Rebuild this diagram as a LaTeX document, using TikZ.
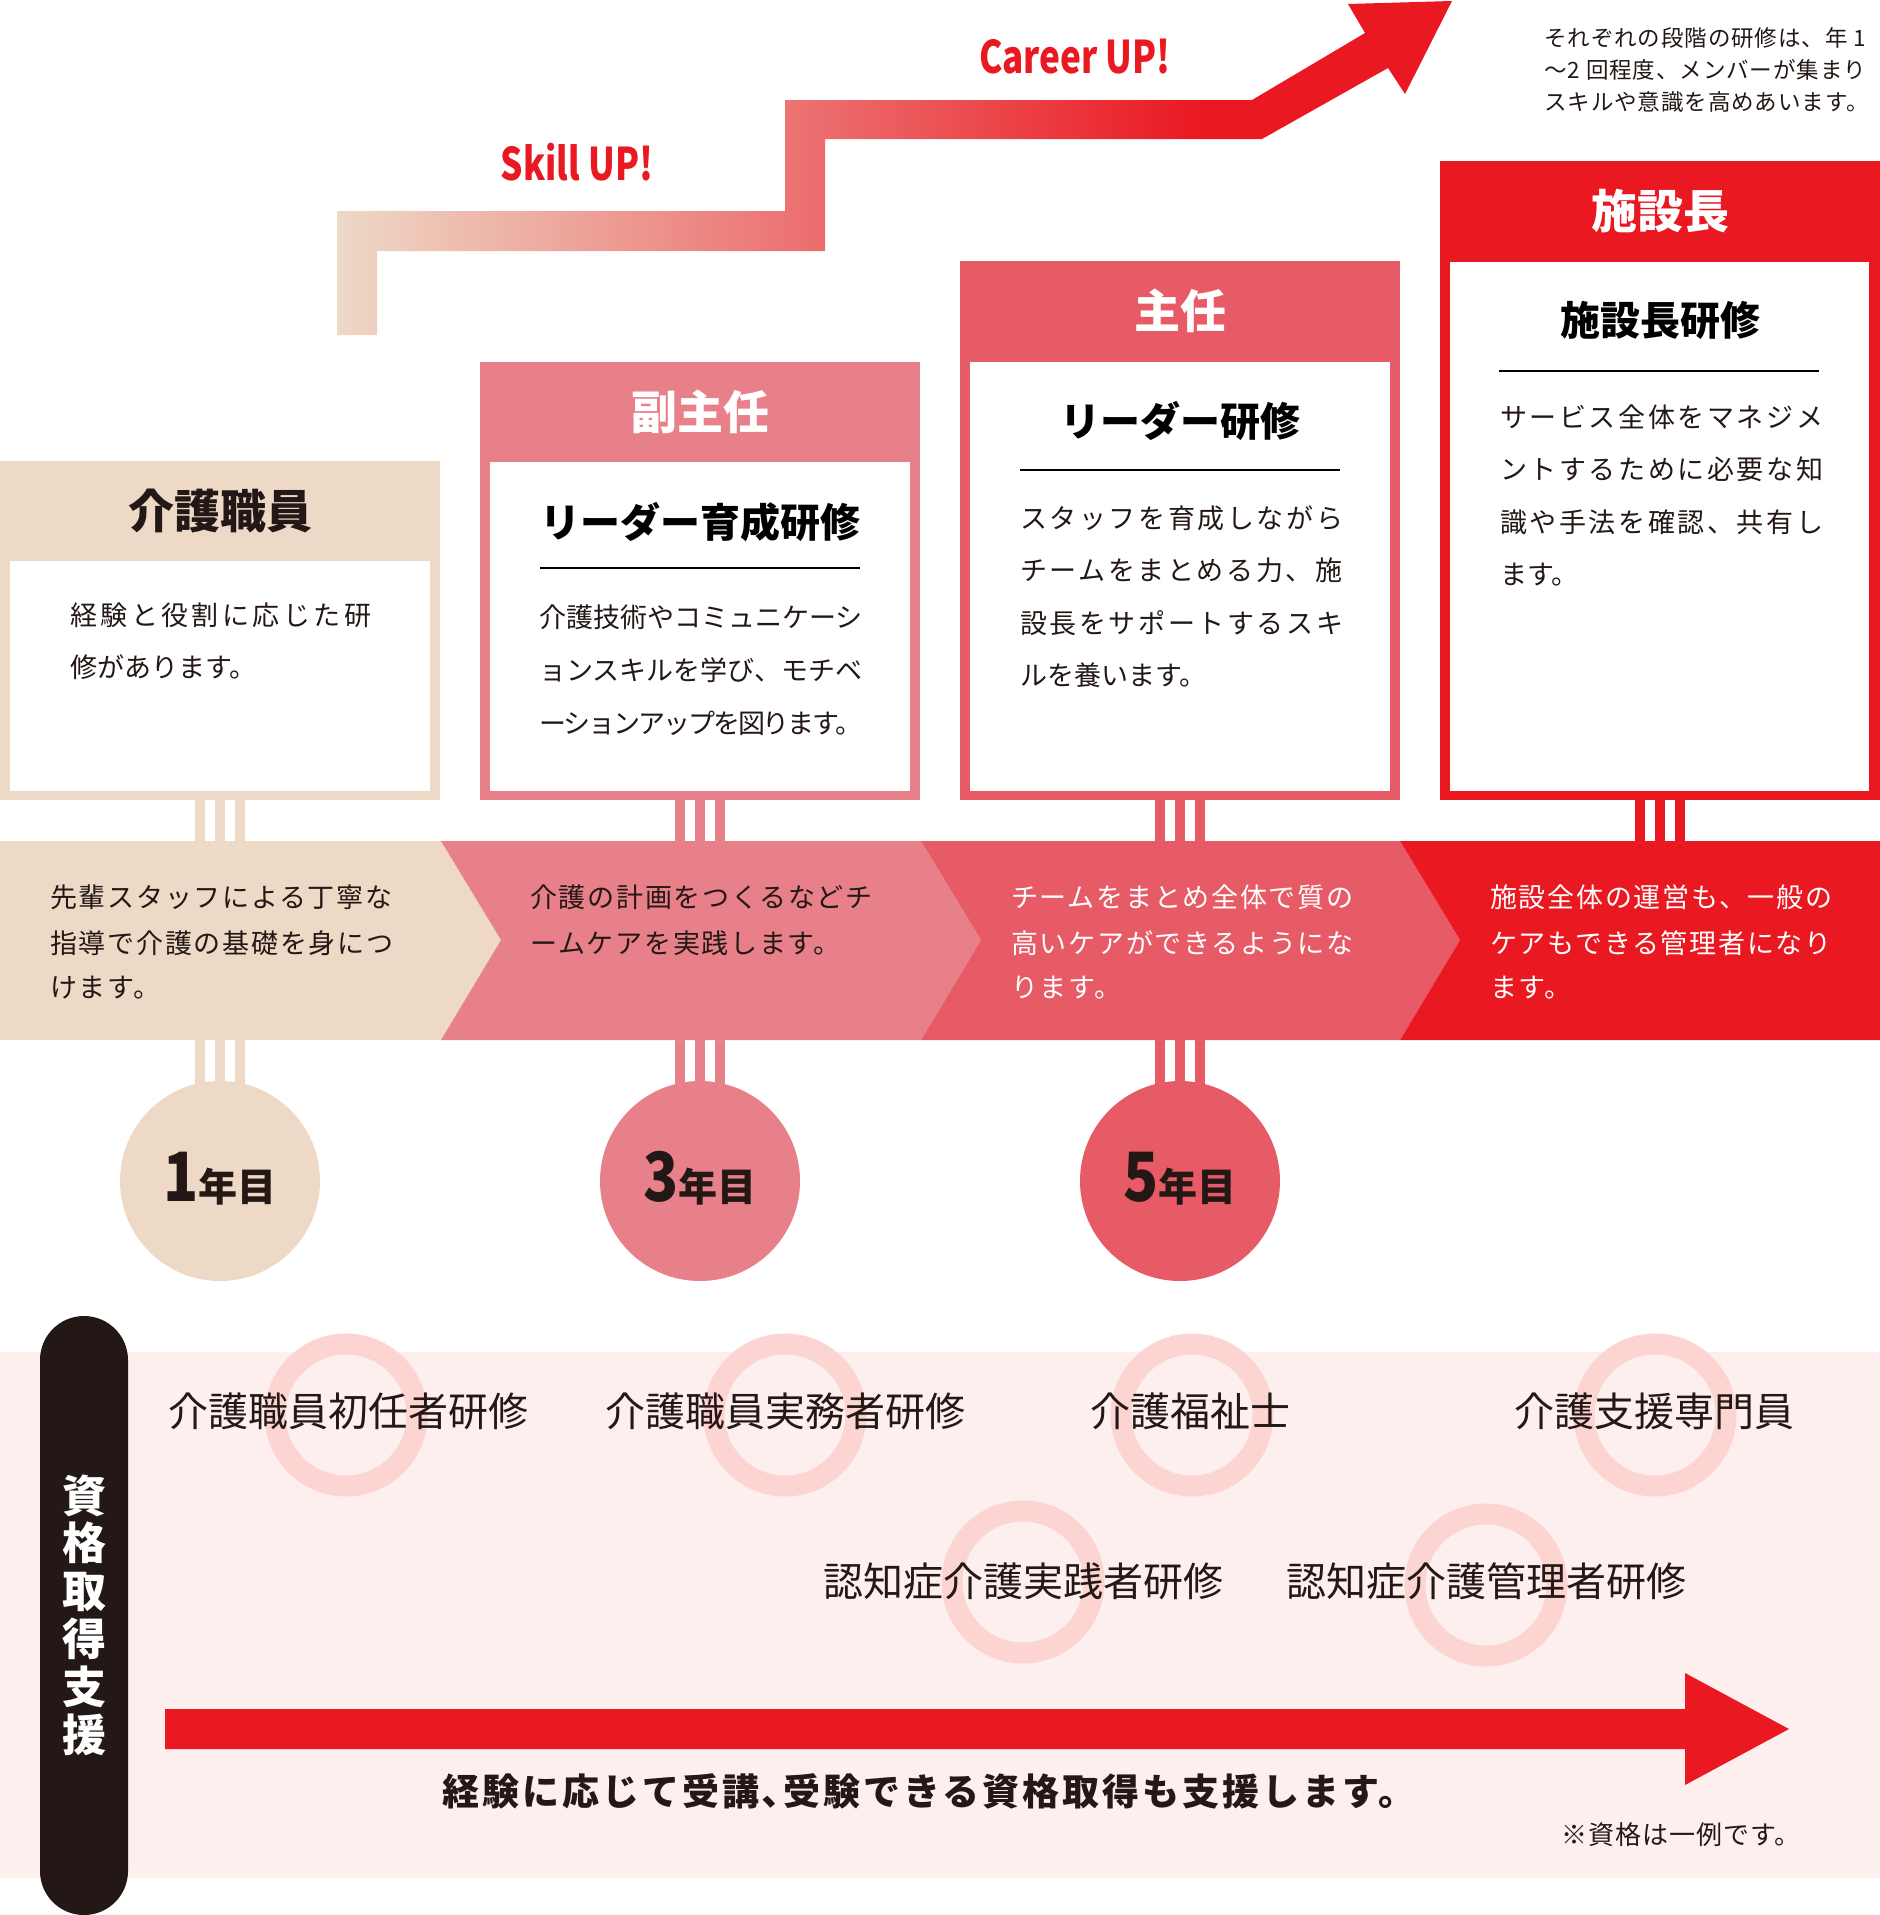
\documentclass[tikz,border=0pt]{standalone}
\usepackage{fontspec}
\setmainfont{Noto Sans CJK JP}
\usetikzlibrary{calc}
\definecolor{beige}{HTML}{EED9C6}
\definecolor{pinkc}{HTML}{E8808A}
\definecolor{rosec}{HTML}{E75B66}
\definecolor{redc}{HTML}{EA1821}
\definecolor{ink}{HTML}{231815}
\definecolor{palebg}{HTML}{FCEFEE}
\definecolor{ringc}{HTML}{FCD5D3}
\definecolor{salmon}{HTML}{EC7171}
\newcommand\fsz[1]{\fontsize{#1}{#1}\selectfont}
\pgfdeclarehorizontalshading{stairshade}{100bp}{color(0bp)=(beige); color(25bp)=(beige); color(45.8bp)=(salmon); color(63.7bp)=(redc); color(100bp)=(redc)}
\tikzset{
  outerbox/.style={anchor=north west, inner sep=0pt, outer sep=0pt, minimum width=440pt, draw=none},
  bar/.style={line width=10pt},
  head/.style={inner sep=0pt, font=\fsz{46}\bfseries},
  ttl/.style={inner sep=0pt, font=\fsz{40}\bfseries, text=black},
  rulel/.style={line width=2.5pt, black},
  bodyA/.style={anchor=west, inner sep=0pt, text=ink, font={\fsz{27}\addfontfeature{LetterSpace=12.7}}},
  bodyB/.style={anchor=west, inner sep=0pt, text=ink, font={\fsz{27}}},
  bodyT/.style={anchor=west, inner sep=0pt, text=ink, font={\fsz{27}\addfontfeature{LetterSpace=-7.7}}},
  bodyC/.style={anchor=west, inner sep=0pt, text=ink, font={\fsz{27}\addfontfeature{LetterSpace=9.6}}},
  bandt/.style={anchor=west, inner sep=0pt, font={\fsz{27}\addfontfeature{LetterSpace=6.4}}},
  yearc/.style={circle, minimum size=200pt, inner sep=0pt, draw=none},
  yeart/.style={anchor=base, inner sep=0pt, text=ink, font=\bfseries},
  ring/.style={draw=ringc, line width=21pt},
  qual/.style={inner sep=0pt, text=ink, font=\fsz{40}},
  up/.style={anchor=base, inner sep=0pt, text=redc, font=\fsz{45}\bfseries},
  note/.style={anchor=west, inner sep=0pt, text=ink, font={\fsz{22.5}\addfontfeature{LetterSpace=4}}},
}
\begin{document}
\begin{tikzpicture}[x=1pt,y=-1pt]
\useasboundingbox (0,0) rectangle (1880,1915);

% staircase arrow
\shade[shading=stairshade] (337,335) -- (337,211) -- (785,211) -- (785,100) -- (1252,100)
  -- (1365,33) -- (1348,4) -- (1452,1) -- (1405,94) -- (1388,68) -- (1262,139)
  -- (825,139) -- (825,251) -- (377,251) -- (377,335) -- cycle;
\node[up] (skill) at (577,180) {\scalebox{0.78}[1]{Skill UP!}};
\node[up] (career) at (1075,73) {\scalebox{0.78}[1]{Career UP!}};

% note
\node[note] (n1) at (1544,38) {それぞれの段階の研修は、年 1};
\node[note] (n2) at (1544,70) {～2 回程度、メンバーが集まり};
\node[note] (n3) at (1544,102) {スキルや意識を高めあいます。};

% boxes
\node[outerbox, fill=beige, minimum height=339pt] (b1) at (0,461) {};
\node[outerbox, fill=pinkc, minimum height=438pt] (b2) at (480,362) {};
\node[outerbox, fill=rosec, minimum height=539pt] (b3) at (960,261) {};
\node[outerbox, fill=redc, minimum height=639pt] (b4) at (1440,161) {};
\fill[white] (10,561) rectangle (430,791);
\fill[white] (490,462) rectangle (910,791);
\fill[white] (970,362) rectangle (1390,791);
\fill[white] (1450,262) rectangle (1869,791);

% headers
\node[head, text=ink] (h1) at (220,511) {介護職員};
\node[head, text=white] (h2) at (700,412) {副主任};
\node[head, text=white] (h3) at (1180,311) {主任};
\node[head, text=white] (h4) at (1660,211) {施設長};

% titles and rules
\node[ttl] (t2) at (700,522) {リーダー育成研修};
\node[ttl] (t3) at (1180,421) {リーダー研修};
\node[ttl] (t4) at (1660,320) {施設長研修};
\draw[rulel] (540,568) -- (860,568);
\draw[rulel] (1020,470) -- (1340,470);
\draw[rulel] (1499,371) -- (1819,371);

% body texts
\node[bodyA] (p11) at (70,615) {経験と役割に応じた研};
\node[bodyB] (p12) at (70,667) {修があります。};
\node[bodyB] (p21) at (539,617) {介護技術やコミュニケーシ};
\node[bodyB] (p22) at (539,670) {ョンスキルを学び、モチベ};
\node[bodyT] (p23) at (539,723) {ーションアップを図ります。};
\node[bodyC] (p31) at (1020,518) {スタッフを育成しながら};
\node[bodyC] (p32) at (1020,570) {チームをまとめる力、施};
\node[bodyC] (p33) at (1020,623) {設長をサポートするスキ};
\node[bodyB] (p34) at (1020,675) {ルを養います。};
\node[bodyC] (p41) at (1500,417) {サービス全体をマネジメ};
\node[bodyC] (p42) at (1500,469) {ントするために必要な知};
\node[bodyC] (p43) at (1500,522) {識や手法を確認、共有し};
\node[bodyB] (p44) at (1500,575) {ます。};

% year circle positions
\coordinate (y1p) at (220,1181);
\coordinate (y2p) at (700,1181);
\coordinate (y3p) at (1180,1181);
\coordinate (band4) at (1660,900);

% triple bars
\foreach \d in {-20,0,20} {
  \draw[bar, beige] ([xshift=\d pt]b1.south) -- ([xshift=\d pt]y1p);
  \draw[bar, pinkc] ([xshift=\d pt]b2.south) -- ([xshift=\d pt]y2p);
  \draw[bar, rosec] ([xshift=\d pt]b3.south) -- ([xshift=\d pt]y3p);
  \draw[bar, redc] ([xshift=\d pt]b4.south) -- ([xshift=\d pt]band4);
}

% chevron band
\fill[beige] (0,841) -- (441,841) -- (501,940) -- (441,1040) -- (0,1040) -- cycle;
\fill[pinkc] (441,841) -- (921,841) -- (981,940) -- (921,1040) -- (441,1040) -- (501,940) -- cycle;
\fill[rosec] (921,841) -- (1400,841) -- (1460,940) -- (1400,1040) -- (921,1040) -- (981,940) -- cycle;
\fill[redc] (1400,841) -- (1880,841) -- (1880,1040) -- (1400,1040) -- (1460,940) -- cycle;

\node[bandt, text=ink] (s11) at (50,897) {先輩スタッフによる丁寧な};
\node[bandt, text=ink] (s12) at (50,943) {指導で介護の基礎を身につ};
\node[bandt, text=ink] (s13) at (50,988) {けます。};
\node[bandt, text=ink] (s21) at (530,897) {介護の計画をつくるなどチ};
\node[bandt, text=ink] (s22) at (530,943) {ームケアを実践します。};
\node[bandt, text=white] (s31) at (1011,897) {チームをまとめ全体で質の};
\node[bandt, text=white] (s32) at (1011,943) {高いケアができるようにな};
\node[bandt, text=white] (s33) at (1011,988) {ります。};
\node[bandt, text=white] (s41) at (1490,897) {施設全体の運営も、一般の};
\node[bandt, text=white] (s42) at (1490,943) {ケアもできる管理者になり};
\node[bandt, text=white] (s43) at (1490,988) {ます。};

% year circles
\node[yearc, fill=beige] (y1) at (y1p) {};
\node[yearc, fill=pinkc] (y2) at (y2p) {};
\node[yearc, fill=rosec] (y3) at (y3p) {};
\node[yeart] (y1t) at (220,1201) {\fsz{68}\scalebox{0.85}[1]{1}\fsz{39}年目};
\node[yeart] (y2t) at (700,1201) {\fsz{68}\scalebox{0.85}[1]{3}\fsz{39}年目};
\node[yeart] (y3t) at (1180,1201) {\fsz{68}\scalebox{0.85}[1]{5}\fsz{39}年目};

% qualification area
\fill[palebg] (0,1352) rectangle (1880,1878);
\fill[ink, rounded corners=44pt] (40,1316) rectangle (128,1915);
\node[inner sep=0pt, text=white, align=center, font={\fsz{44}\bfseries\baselineskip=47.8pt}] (vt) at (84,1615) {資\\格\\取\\得\\支\\援};

\draw[ring] (346,1415) circle[radius=71pt];
\draw[ring] (785,1415) circle[radius=71pt];
\draw[ring] (1192,1415) circle[radius=71pt];
\draw[ring] (1655,1415) circle[radius=71pt];
\draw[ring] (1023,1582) circle[radius=71pt];
\draw[ring] (1486,1585) circle[radius=71pt];

\node[qual] (q1) at (348,1411) {介護職員初任者研修};
\node[qual] (q2) at (785,1411) {介護職員実務者研修};
\node[qual] (q3) at (1190,1411) {介護福祉士};
\node[qual] (q4) at (1654,1411) {介護支援専門員};
\node[qual] (q5) at (1023,1581) {認知症介護実践者研修};
\node[qual] (q6) at (1486,1581) {認知症介護管理者研修};

\fill[redc] (165,1709) -- (1685,1709) -- (1685,1673) -- (1789,1729) -- (1685,1785) -- (1685,1749) -- (165,1749) -- cycle;
\node[inner sep=0pt, text=ink, font={\fsz{37}\bfseries\addfontfeature{LetterSpace=8}}] (msg) at (929,1791) {経験に応じて受講､受験できる資格取得も支援します。};
\node[inner sep=0pt, text=ink, font={\fsz{26}\addfontfeature{LetterSpace=4}}] (foot) at (1681,1835) {※資格は一例です。};
\end{tikzpicture}
\end{document}
